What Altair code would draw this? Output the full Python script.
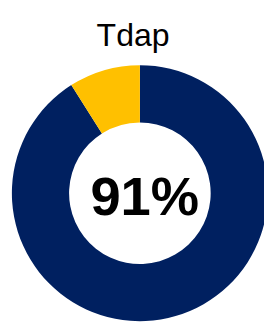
import altair as alt
import pandas as pd

categories = ["Vaccinated", "Not vaccinated"]
values = [91, 9]
colors = ["#002060", "#FFC000"]
title_text = "Tdap"
center_label = "91%"

df = pd.DataFrame({"category": categories, "value": values, "order": [0, 1]})

arc = alt.Chart(df).mark_arc(radius=132, innerRadius=73, x=136, y=186, stroke=None).encode(
    theta=alt.Theta("value:Q", stack=True),
    color=alt.Color("category:N", scale=alt.Scale(domain=categories, range=colors), legend=None),
    order=alt.Order("order:Q"),
)

label = alt.Chart(pd.DataFrame({"t": [center_label]})).mark_text(
    font="Liberation Sans", fontWeight="bold", fontSize=56, baseline="alphabetic", align="center", color="black"
).encode(text="t:N", x=alt.value(141), y=alt.value(208))

title = alt.Chart(pd.DataFrame({"t": [title_text]})).mark_text(
    font="Liberation Sans", fontSize=33, baseline="alphabetic", align="center", color="black"
).encode(text="t:N", x=alt.value(129), y=alt.value(34))

chart = alt.layer(arc, label, title).properties(
    width=264, height=319, autosize=alt.AutoSizeParams(type="none"), padding=0
).configure_view(stroke=None)

chart.save("out.html", embed_options={"renderer": "svg", "actions": False})
